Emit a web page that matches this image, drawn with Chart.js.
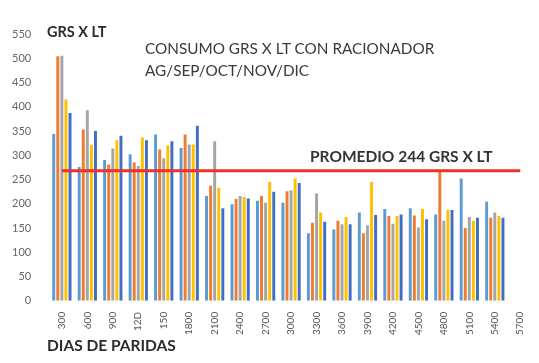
<!DOCTYPE html>
<html>
<head>
<meta charset="utf-8">
<script src="https://cdn.jsdelivr.net/npm/chart.js@4/dist/chart.umd.min.js"></script>
<style>
  body { margin: 0; background: #fff; }
  #wrap { position: relative; width: 539px; height: 363px; }
  .txt { position: absolute; font-family: Lato, "Open Sans", sans-serif; color: #2b2b2b; white-space: nowrap; }
</style>
</head>
<body>
<div id="wrap">
  <canvas id="grs-chart" width="539" height="363"></canvas>
  <div class="txt" style="left:47px; top:23px; font-size:14.5px; font-weight:bold;">GRS X LT</div>
  <div class="txt" style="left:145px; top:39px; font-size:15.3px; color:#3a3a3a;">CONSUMO GRS X LT CON RACIONADOR</div>
  <div class="txt" style="left:145px; top:61px; font-size:15.3px; color:#3a3a3a;">AG/SEP/OCT/NOV/DIC</div>
  <div class="txt" style="left:310px; top:147px; font-size:15.5px; font-weight:bold; color:#333;">PROMEDIO 244 GRS X LT</div>
  <div class="txt" style="left:47px; top:336px; font-size:15.5px; font-weight:bold;">DIAS DE PARIDAS</div>
</div>
<script>
// dias de paridas
var dias = ["300","600","900","12D","150","1800","2100","2400","2700","3000","3300","3600","3900","4200","4500","4800","5100","5400","5700"];

// grs x lt por mes
var ag  = [344, 276, 290, 302, 343, 315, 216, 199, 206, 202, 139, 147, 182, 189, 191, 178, 252, 204, null];
var sep = [504, 353, 281, 285, 312, 343, 237, 210, 216, 226, 161, 165, 139, 175, 176, 270, 150, 171, null];
var oct = [505, 393, 314, 278, 294, 322, 329, 216, 202, 228, 221, 158, 156, 159, 151, 165, 173, 182, null];
var nov = [415, 321, 331, 337, 320, 322, 233, 214, 245, 252, 182, 173, 245, 175, 189, 187, 165, 175, null];
var dic = [387, 350, 340, 331, 329, 361, 191, 211, 225, 243, 163, 158, 177, 178, 168, 187, 171, 171, null];

// linea roja del promedio (dibujada a esta altura en el original)
var promedio = dias.map(function() { return 268; });

var grs_chart = document.getElementById("grs-chart");

new Chart(grs_chart.getContext('2d'), {
    data: {
      labels: dias,
      datasets: [
        { type: 'line', label: "Promedio", data: promedio, borderColor: '#f0302a', borderWidth: 3, pointRadius: 0, order: 0 },
        { type: 'bar', label: "AG",  data: ag,  backgroundColor: '#5b9bd5', order: 1 },
        { type: 'bar', label: "SEP", data: sep, backgroundColor: '#ed7d31', order: 1 },
        { type: 'bar', label: "OCT", data: oct, backgroundColor: '#a5a5a5', order: 1 },
        { type: 'bar', label: "NOV", data: nov, backgroundColor: '#ffc000', order: 1 },
        { type: 'bar', label: "DIC", data: dic, backgroundColor: '#3f6fc4', order: 1 }
      ]
    },
    options: {
      responsive: false,
      animation: false,
      layout: { padding: { top: 34, right: 6, bottom: 25, left: 2 } },
      datasets: { bar: { categoryPercentage: 0.8, barPercentage: 0.72 } },
      plugins: { legend: { display: false }, tooltip: { enabled: false } },
      scales: {
        x: {
          grid: { display: false },
          border: { display: false },
          ticks: { color: '#555', minRotation: 90, maxRotation: 90, autoSkip: false, font: { family: 'Lato', size: 10 } }
        },
        y: {
          min: 0,
          max: 550,
          grid: { display: false },
          border: { display: false },
          ticks: { stepSize: 50, color: '#666', padding: 10, font: { family: 'Lato', size: 11 } }
        }
      }
    }
});
</script>
</body>
</html>
